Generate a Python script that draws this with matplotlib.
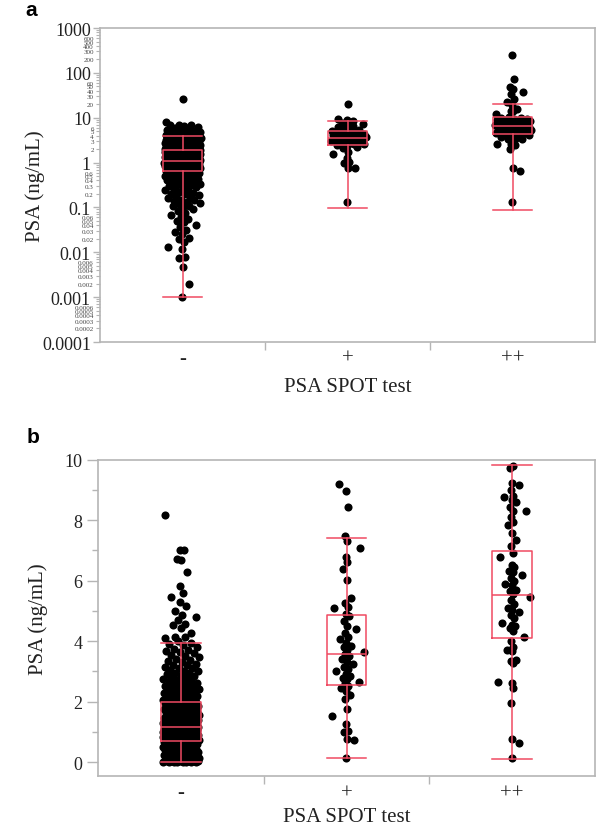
import numpy as np
import matplotlib
matplotlib.use("Agg")
from matplotlib import pyplot as plt
from matplotlib import ticker as mticker

plt.rcParams['font.family'] = ['Liberation Serif', 'DejaVu Serif']

categories = ["-", "+", "++"]

# PSA values (ng/mL), one list per SPOT test group
psa_neg = [0.001, 0.002, 0.0048, 0.0075, 0.008, 0.012, 0.013, 0.017, 0.02, 0.021, 0.025, 0.028,
           0.032, 0.036, 0.041, 0.047, 0.05, 0.056, 0.062, 0.068, 0.075, 0.083, 0.092,
           0.1, 0.105, 0.11, 0.12, 0.125, 0.13, 0.14, 0.147, 0.15, 0.16, 0.17, 0.18, 0.19, 0.2, 0.2,
           0.21, 0.22, 0.24, 0.25, 0.26, 0.28, 0.29,
           0.3, 0.31, 0.32, 0.33, 0.35, 0.36, 0.37, 0.38, 0.4, 0.4, 0.41, 0.42, 0.44, 0.45, 0.46, 0.48,
           0.5, 0.5, 0.51, 0.53, 0.55, 0.56, 0.57, 0.6, 0.6, 0.61, 0.62, 0.64, 0.65, 0.66, 0.68, 0.69,
           0.7, 0.7, 0.71, 0.72, 0.73, 0.74, 0.75, 0.75, 0.76, 0.77, 0.78, 0.79, 0.8, 0.8, 0.8, 0.81,
           0.82, 0.83, 0.84, 0.85, 0.85, 0.86, 0.87, 0.88, 0.89, 0.9, 0.9, 0.9, 0.91, 0.92, 0.93, 0.94,
           0.95, 0.95, 0.96, 0.97, 0.98, 0.99, 1.0, 1.0, 1.0, 1.0, 1.01, 1.02, 1.03, 1.04, 1.05, 1.05,
           1.06, 1.07, 1.08, 1.09, 1.1, 1.1, 1.1, 1.11, 1.12, 1.13, 1.14, 1.15, 1.15, 1.16,
           1.18, 1.2, 1.2, 1.21, 1.22, 1.23, 1.25, 1.25, 1.26, 1.28, 1.3, 1.3, 1.3, 1.31, 1.32, 1.34,
           1.35, 1.36, 1.38, 1.4, 1.4, 1.41, 1.42, 1.44, 1.45, 1.46, 1.48, 1.5, 1.5, 1.5, 1.52, 1.53,
           1.55, 1.56, 1.58, 1.6, 1.6, 1.61, 1.63, 1.65, 1.66, 1.68, 1.7, 1.7, 1.72, 1.74, 1.75, 1.77,
           1.8, 1.8, 1.81, 1.83, 1.85, 1.86, 1.88, 1.9, 1.9, 1.92, 1.94, 1.95, 1.97, 1.99,
           2.0, 2.01, 2.02, 2.04, 2.05, 2.07, 2.08, 2.1, 2.11, 2.12, 2.14, 2.15, 2.18, 2.2, 2.21, 2.22,
           2.25, 2.27, 2.3, 2.31, 2.32, 2.35, 2.36, 2.4, 2.41, 2.42, 2.45, 2.47, 2.5, 2.52, 2.53, 2.57,
           2.6, 2.62, 2.64, 2.68, 2.7, 2.72, 2.75, 2.8, 2.82, 2.84, 2.88, 2.9, 2.93, 2.95, 3.0, 3.02,
           3.04, 3.1, 3.12, 3.15, 3.2, 3.22, 3.24, 3.3, 3.35, 3.38, 3.4, 3.46, 3.5, 3.55, 3.6, 3.63,
           3.66, 3.7, 3.75, 3.8, 3.86, 3.9, 3.93,
           3.99, 4.1, 4.14, 4.14, 4.26, 4.42, 4.53, 4.56, 4.7, 4.8, 4.86, 5.0, 5.17, 5.28, 5.45, 5.6,
           5.82, 6.28, 6.68, 6.72, 7.0, 7.03, 8.18, 26.0]
psa_pos = [0.13, 0.74, 0.77, 0.99, 1.04, 1.26, 1.54, 1.76, 2.09, 2.22, 2.36, 2.45, 2.53, 2.6, 2.66,
           2.75, 2.77, 2.85, 2.91, 3.02, 3.08, 3.15, 3.24, 3.32, 3.4, 3.5, 3.57, 3.65, 3.71, 3.79,
           3.84, 3.95, 4.06, 4.15, 4.26, 4.4, 4.5, 4.66, 4.83, 4.9, 5.11, 5.13, 5.27, 5.43, 6.02,
           6.37, 6.61, 6.79, 7.08, 7.3, 7.49, 8.44, 8.98, 9.21, 20.2]
psa_pos2 = [0.13, 0.64, 0.75, 1.96, 2.46, 2.62, 2.64, 3.27, 3.33, 3.38, 3.66, 3.71, 3.82, 3.99, 4.15,
            4.32, 4.43, 4.49, 4.54, 4.6, 4.76, 4.87, 4.95, 5.03, 5.1, 5.23, 5.36, 5.45, 5.56, 5.67,
            5.7, 5.86, 5.9, 6.0, 6.1, 6.2, 6.3, 6.33, 6.45, 6.52, 6.77, 6.9, 7.14, 7.34, 7.58, 7.83,
            7.94, 8.1, 8.3, 8.3, 8.44, 8.6, 8.66, 8.77, 8.8, 9.0, 9.16, 9.23, 9.72, 9.78,
            10.2, 12.1, 14.3, 14.3, 15.6, 19.6, 22.1, 26.2, 33.8, 36.8, 43.8, 47.6, 73.0, 250.0]
groups = [psa_neg, psa_pos, psa_pos2]

# box plot statistics (low whisker, Q1, median, Q3, high whisker)
box_a_low = [0.001, 0.095, 0.087]
box_a_q1 = [0.64, 2.47, 4.34]
box_a_med = [1.10, 3.48, 6.65]
box_a_q3 = [1.91, 4.99, 10.2]
box_a_high = [4.0, 8.3, 20.2]

box_b_low = [0.0, 0.14, 0.10]
box_b_q1 = [0.70, 2.54, 4.11]
box_b_med = [1.17, 3.59, 5.54]
box_b_q3 = [2.0, 4.88, 6.97]
box_b_high = [3.93, 7.42, 9.81]

RED = "#f04a62"
GREY = "#b5b5b5"
TXT = "#222222"


def spread(values, to_axis, h, cap=30.0, half=0.11):
	"""deterministic jitter: crowded parts of a group get spread wide, sparse tails stay
	near the centre line except for the odd straggler"""
	v = np.sort(np.asarray(values, float))
	t = to_axis(v)
	n = np.array([np.sum(np.abs(t - ti) <= h) for ti in t])
	f = np.minimum(1.0, n / cap)
	s = 2 * ((np.arange(len(v)) * 0.6180339887 + 0.31) % 1.0) - 1
	return v, half * s * (f + (1 - f) * s ** 6)


def draw_panel(ax, data, low, q1, med, q3, high, to_axis, h, caps):
	for i, vals in enumerate(data):
		v, off = spread(vals, to_axis, h, caps[i])
		ax.scatter(i + off, v, s=34, c="black", linewidths=0, zorder=2)
	stats = [dict(whislo=low[i], q1=q1[i], med=med[i], q3=q3[i], whishi=high[i], fliers=[])
	         for i in range(len(categories))]
	lp = dict(color=RED, linewidth=1.1)
	ax.bxp(stats, positions=range(len(categories)), widths=0.24, capwidths=0.24, showfliers=False,
	       boxprops=lp, whiskerprops=lp, capprops=lp, medianprops=lp, manage_ticks=False, zorder=3)

	ax.set_xlim(-0.5, 2.5)
	ax.set_xticks([0.5, 1.5])
	ax.set_xticklabels([])
	ax.set_xticks(range(len(categories)), minor=True)
	ax.set_xticklabels(categories, minor=True, fontsize=15, color=TXT)
	ax.tick_params(axis="x", which="major", length=6, width=1, color=GREY)
	ax.tick_params(axis="x", which="minor", length=0, pad=5)
	for sp in ax.spines.values():
		sp.set_color(GREY)
		sp.set_linewidth(1.2)
	ax.set_xlabel("PSA SPOT test", fontsize=15, color=TXT)
	ax.set_ylabel("PSA (ng/mL)", fontsize=15, color=TXT)


fig = plt.figure(figsize=(5.97, 8.28), dpi=100)

# panel a: log scale, all values
ax_a = fig.add_axes([100 / 597, 1 - 343 / 828, 495 / 597, 314 / 828])
ax_a.set_yscale("log")
draw_panel(ax_a, groups, box_a_low, box_a_q1, box_a_med, box_a_q3, box_a_high, np.log10, 0.12,
           [11.0, 20.0, 20.0])
ax_a.set_ylim(1e-4, 1e3)
ax_a.yaxis.set_major_locator(mticker.LogLocator(base=10, numticks=12))
ax_a.yaxis.set_major_formatter(mticker.FuncFormatter(lambda v, p: f"{v:g}"))
ax_a.yaxis.set_minor_locator(mticker.LogLocator(base=10, subs=range(2, 10), numticks=12))


def minor_lab(v, p):
	m = v / 10 ** np.floor(np.log10(v) + 1e-9)
	return f"{v:g}" if round(m) in (2, 3, 4, 5, 6) else ""


ax_a.yaxis.set_minor_formatter(mticker.FuncFormatter(minor_lab))
ax_a.tick_params(axis="y", which="major", length=5, width=1, color=GREY, labelsize=13, labelcolor=TXT, pad=1.5)
ax_a.tick_params(axis="y", which="minor", length=3, width=0.8, color=GREY, labelsize=5, labelcolor="#444444", pad=1.5)
ax_a.yaxis.set_label_coords(-0.112, 0.5)
ax_a.xaxis.set_label_coords(0.5, -0.112)

# panel b: linear scale, values up to 10
ax_b = fig.add_axes([98 / 597, 1 - 777.3 / 828, 497 / 597, 316.6 / 828])
data_b = [[x for x in g if x <= 10] for g in groups]
draw_panel(ax_b, data_b, box_b_low, box_b_q1, box_b_med, box_b_q3, box_b_high, lambda x: x, 0.3,
           [12.0, 30.0, 30.0])
ax_b.set_ylim(-0.47, 10)
ax_b.set_yticks(range(0, 11, 2))
ax_b.set_yticks(range(1, 10, 2), minor=True)
ax_b.tick_params(axis="y", which="major", length=8, width=1, color=GREY, labelsize=13, labelcolor=TXT, pad=3)
ax_b.tick_params(axis="y", which="minor", length=4, width=1, color=GREY)
ax_b.yaxis.set_label_coords(-0.10, 0.5)
ax_b.xaxis.set_label_coords(0.5, -0.098)

fig.text(31 / 597, 1 - 10 / 828, "a", fontsize=15, fontweight="bold", family="Liberation Sans",
         ha="center", va="center")
fig.text(33 / 597, 1 - 438 / 828, "b", fontsize=15, fontweight="bold", family="Liberation Sans",
         ha="center", va="center")

fig.savefig("out.png", dpi=100)
